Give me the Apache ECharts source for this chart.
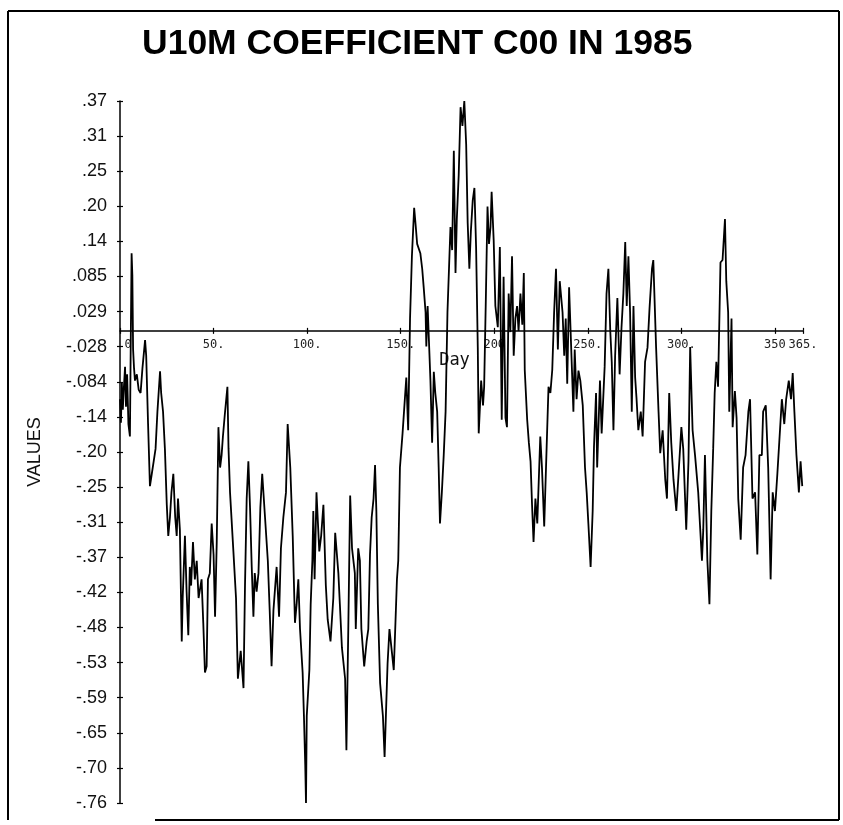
<!DOCTYPE html>
<html><head><meta charset="utf-8">
<script src="https://cdn.jsdelivr.net/npm/echarts@6.0.0/dist/echarts.min.js"></script>
<style>html,body{margin:0;padding:0;background:#fff}#chart{width:843px;height:825px}</style>
</head><body><div id="chart"></div>
<script>
const days = [0,0.5,1,1.5,2,2.7,3.2,3.8,4.5,5.3,5.8,6.2,6.6,7,7.5,8,9,10,11,12,13.4,14,15,16,17,18,19,20,21.4,22,23,24,25,25.8,26.7,27.5,28.5,29.5,30.3,31,32,33,33.5,34.7,35.6,36.5,37.3,38,39,40,41,42,43.6,44.5,45.4,46.3,47,48,49,50,50.8,51.7,52.6,53.5,54.3,55,56,57.4,58,58.8,60.6,62,63,64.5,66,66.8,67.7,68.6,69.5,70.4,71.3,72,73,74,75,76,77.5,79,80,81,82,83.7,85,86,87.3,88.7,89.6,91,92.3,93.5,94.4,95.3,96.2,97.6,98.3,99,99.4,99.8,101.2,101.9,102.8,103.3,104,105,106.5,107.5,108.7,110,111,112.5,114,115,116.7,117.5,118.6,120.3,121,122,123,124,125.5,126,127.3,128.2,129,130.5,131.8,132.7,133.6,134.5,135.5,136.3,137,137.8,139,140.5,141.4,142.3,143,144,145.4,146.3,147.2,148,148.7,149.6,151,152,153,154,155,156,157.2,158,158.8,160.5,161.5,162.3,163.3,163.7,164.4,165.9,166.8,167.7,168.5,169.5,170.3,171,172,173,174,175,176.6,177.5,178.4,179.3,180,181,182,183,184,185,185.8,186.7,187.5,188.5,189.4,190.3,191.2,191.7,193,194,194.6,195.5,196.4,197.2,198,198.6,199.7,200.6,201.9,203,204,205,206,206.8,207.7,208.6,209.5,210.4,211.3,212.2,213,214,215,215.8,216.3,217.6,218.5,219.4,220.2,221,222,223,224.6,225.5,226.7,228,229,230,231,232,233,234,235,236.5,237.4,238.2,239,240,241,242.3,243,244,245,246,247.3,248.5,249.4,250.3,251.5,252.6,253.3,254.4,255,256.5,257.4,259,260,261,262,262.8,263.7,264.6,265.8,267,268,269,270,270.8,271.7,272.6,273.5,274.4,275.3,276,277,278.3,279.3,280.6,281.9,283,284.3,285,286.5,287.8,288.7,290,291.4,292.3,293.5,294.6,295.8,297.3,298.5,300,301,302.6,303.8,304.7,306,307.3,309,311,311.7,312.6,313.9,315,316,317,317.8,318.7,319.6,320.9,322,323.3,324,325,325.6,326.8,327.4,328.6,329.5,330.4,331.7,333,334.3,335.8,336.7,338,339.4,340.6,341.7,343,343.7,345.1,346.4,347.7,348.8,350,351.3,352.8,353.7,355,356,357.4,358.6,359.5,360.4,361.5,362.8,363.7,364.6];
const values = [-0.11,-0.148,-0.084,-0.127,-0.095,-0.058,-0.122,-0.07,-0.15,-0.17,0.0,0.125,0.09,-0.03,-0.06,-0.08,-0.07,-0.095,-0.10,-0.06,-0.015,-0.04,-0.15,-0.25,-0.23,-0.21,-0.19,-0.13,-0.065,-0.10,-0.13,-0.19,-0.28,-0.33,-0.30,-0.26,-0.23,-0.30,-0.33,-0.27,-0.32,-0.50,-0.43,-0.33,-0.42,-0.49,-0.38,-0.41,-0.34,-0.40,-0.37,-0.43,-0.40,-0.47,-0.55,-0.54,-0.40,-0.39,-0.31,-0.36,-0.46,-0.34,-0.155,-0.22,-0.20,-0.17,-0.135,-0.09,-0.19,-0.26,-0.355,-0.43,-0.56,-0.515,-0.575,-0.41,-0.27,-0.21,-0.285,-0.38,-0.46,-0.39,-0.42,-0.39,-0.285,-0.23,-0.30,-0.37,-0.45,-0.54,-0.45,-0.38,-0.46,-0.35,-0.30,-0.26,-0.15,-0.22,-0.33,-0.47,-0.44,-0.40,-0.48,-0.55,-0.62,-0.70,-0.76,-0.62,-0.546,-0.44,-0.37,-0.29,-0.40,-0.26,-0.355,-0.33,-0.28,-0.41,-0.465,-0.50,-0.43,-0.325,-0.39,-0.44,-0.51,-0.56,-0.675,-0.48,-0.265,-0.35,-0.39,-0.48,-0.35,-0.37,-0.48,-0.54,-0.50,-0.48,-0.36,-0.30,-0.27,-0.216,-0.29,-0.44,-0.567,-0.62,-0.686,-0.60,-0.535,-0.48,-0.52,-0.546,-0.47,-0.40,-0.37,-0.22,-0.165,-0.12,-0.075,-0.16,0.02,0.12,0.198,0.17,0.14,0.125,0.10,0.07,0.03,-0.025,0.04,-0.08,-0.18,-0.066,-0.10,-0.13,-0.22,-0.31,-0.26,-0.20,-0.13,0.03,0.167,0.13,0.29,0.093,0.18,0.25,0.36,0.33,0.37,0.30,0.174,0.10,0.16,0.21,0.23,0.135,-0.026,-0.165,-0.08,-0.12,-0.09,0.05,0.20,0.14,0.167,0.224,0.146,0.04,0.006,0.135,-0.143,0.087,-0.14,-0.155,0.06,-0.002,0.12,-0.04,0.02,0.04,0.0,0.06,0.01,0.093,-0.063,-0.143,-0.18,-0.21,-0.28,-0.34,-0.27,-0.31,-0.17,-0.22,-0.315,-0.187,-0.09,-0.10,-0.063,0.03,0.10,-0.03,0.08,0.03,-0.04,0.02,-0.085,0.07,0.07,-0.13,-0.03,-0.11,-0.064,-0.08,-0.12,-0.22,-0.26,-0.31,-0.38,-0.29,-0.187,-0.10,-0.22,-0.08,-0.165,-0.058,0.06,0.10,0.0,-0.05,-0.16,-0.04,0.053,-0.07,0.005,0.06,0.143,0.04,0.12,0.03,-0.13,0.04,-0.075,-0.107,-0.16,-0.13,-0.17,-0.05,-0.027,0.037,0.10,0.114,-0.027,-0.13,-0.197,-0.16,-0.24,-0.27,-0.10,-0.18,-0.24,-0.29,-0.23,-0.155,-0.19,-0.32,-0.21,-0.026,-0.16,-0.20,-0.26,-0.37,-0.32,-0.20,-0.37,-0.44,-0.29,-0.19,-0.10,-0.05,-0.09,0.11,0.114,0.18,0.08,0.03,-0.13,0.02,-0.155,-0.097,-0.14,-0.27,-0.336,-0.22,-0.20,-0.13,-0.11,-0.27,-0.26,-0.36,-0.20,-0.20,-0.13,-0.12,-0.22,-0.40,-0.26,-0.29,-0.23,-0.155,-0.11,-0.15,-0.11,-0.08,-0.11,-0.068,-0.13,-0.20,-0.26,-0.21,-0.25];

const yTickLabels = ['-.76','-.70','-.65','-.59','-.53','-.48','-.42','-.37','-.31','-.25','-.20','-.14','-.084','-.028','.029','.085','.14','.20','.25','.31','.37'];
const xTickValues = [0,50,100,150,200,250,300,350,365];
const xTickLabels = ['0','50.','100.','150.','200','250.','300.','350','365.'];

const Y_MIN = -0.76, Y_MAX = 0.37, X_MIN = 0, X_MAX = 365;
const yStep = (Y_MAX - Y_MIN) / (yTickLabels.length - 1);
const yTickValues = yTickLabels.map((_, i) => +(Y_MIN + i * yStep).toFixed(6));
const seriesData = days.map((d, i) => [d, values[i]]);

// layout of the plot area
const W = 843, H = 825;
const G = {left: 120, right: 40, top: 101, bottom: 22};
const plotH = H - G.top - G.bottom;
// height from the top of the plot to the zero line, derived from the y scale
const zeroOffset = plotH * (Y_MAX - 0) / (Y_MAX - Y_MIN);

function yLabel(v) {
  const i = Math.round((v - Y_MIN) / yStep);
  return yTickLabels[i] !== undefined ? yTickLabels[i] : '';
}
function xLabel(v) {
  const i = xTickValues.findIndex(t => Math.abs(t - v) < 1e-6);
  if (i < 0) return '';
  return i === 0 ? '{z|' + xTickLabels[i] + '}' : xTickLabels[i];
}

const monoFont = 'DejaVu Sans Mono, monospace';
const sansFont = 'Liberation Sans, Arial, sans-serif';
const tickStyle = {color: '#000', width: 1.2};

const chart = echarts.init(document.getElementById('chart'), null, {renderer: 'canvas'});
chart.setOption({
  animation: false,
  backgroundColor: '#fff',
  title: {
    text: 'U10M COEFFICIENT C00 IN 1985',
    left: 137, top: 21,
    textStyle: {fontFamily: sansFont, fontWeight: 'bold', fontSize: 35.5, color: '#000'}
  },
  grid: [
    {left: G.left, right: G.right, top: G.top, bottom: G.bottom, containLabel: false, outerBoundsMode: 'none'},
    {left: G.left, right: G.right, top: G.top, height: zeroOffset, containLabel: false, outerBoundsMode: 'none'}
  ],
  xAxis: [{
    gridIndex: 0, type: 'value', min: X_MIN, max: X_MAX, show: false,
    axisLine: {onZero: false}, splitLine: {show: false}
  }, {
    gridIndex: 1, type: 'value', min: X_MIN, max: X_MAX, position: 'bottom',
    axisLine: {show: true, onZero: false, lineStyle: {color: '#000', width: 1.5}},
    axisTick: {show: true, customValues: xTickValues, length: 3, lineStyle: tickStyle},
    axisLabel: {show: true, customValues: xTickValues, formatter: xLabel, margin: 8,
      fontFamily: monoFont, fontSize: 12, color: '#222',
      rich: {z: {fontFamily: monoFont, fontSize: 12, color: '#222', padding: [0, 0, 0, 16]}}},
    splitLine: {show: false},
    name: 'Day', nameLocation: 'middle', nameGap: 20,
    nameTextStyle: {fontFamily: monoFont, fontSize: 17, color: '#111', padding: [0, 14, 0, 0]}
  }, {
    gridIndex: 1, type: 'value', min: X_MIN, max: X_MAX, position: 'bottom',
    axisLine: {show: false, onZero: false},
    axisTick: {show: true, inside: true, customValues: xTickValues, length: 3, lineStyle: tickStyle},
    axisLabel: {show: false},
    splitLine: {show: false}
  }],
  yAxis: [{
    gridIndex: 0, type: 'value', min: Y_MIN, max: Y_MAX, position: 'left',
    axisLine: {show: true, onZero: false, lineStyle: {color: '#000', width: 1.5}},
    axisTick: {show: true, customValues: yTickValues, length: 3, lineStyle: tickStyle},
    axisLabel: {show: true, customValues: yTickValues, formatter: yLabel, margin: 13,
      fontFamily: sansFont, fontSize: 18, color: '#111'},
    splitLine: {show: false},
    name: 'VALUES', nameLocation: 'middle', nameGap: 76, nameRotate: 90,
    nameTextStyle: {fontFamily: sansFont, fontSize: 18, color: '#111'}
  }, {
    gridIndex: 0, type: 'value', min: Y_MIN, max: Y_MAX, position: 'left',
    axisLine: {show: false, onZero: false},
    axisTick: {show: true, inside: true, customValues: yTickValues, length: 3, lineStyle: tickStyle},
    axisLabel: {show: false},
    splitLine: {show: false}
  }, {
    gridIndex: 1, type: 'value', min: 0, max: Y_MAX, show: false,
    axisLine: {onZero: false}, splitLine: {show: false}
  }],
  series: [{
    type: 'line', xAxisIndex: 0, yAxisIndex: 0,
    data: seriesData, showSymbol: false, symbol: 'none',
    lineStyle: {color: '#000', width: 1.8},
    z: 3
  }],
  graphic: [
    {type: 'line', shape: {x1: 8, y1: 11, x2: 8, y2: 820}, style: {stroke: '#000', lineWidth: 2}},
    {type: 'line', shape: {x1: 8, y1: 11, x2: 839, y2: 11}, style: {stroke: '#000', lineWidth: 2}},
    {type: 'line', shape: {x1: 839, y1: 11, x2: 839, y2: 820}, style: {stroke: '#000', lineWidth: 2}},
    {type: 'line', shape: {x1: 155, y1: 820, x2: 839, y2: 820}, style: {stroke: '#000', lineWidth: 2}}
  ]
});
</script>
</body></html>
